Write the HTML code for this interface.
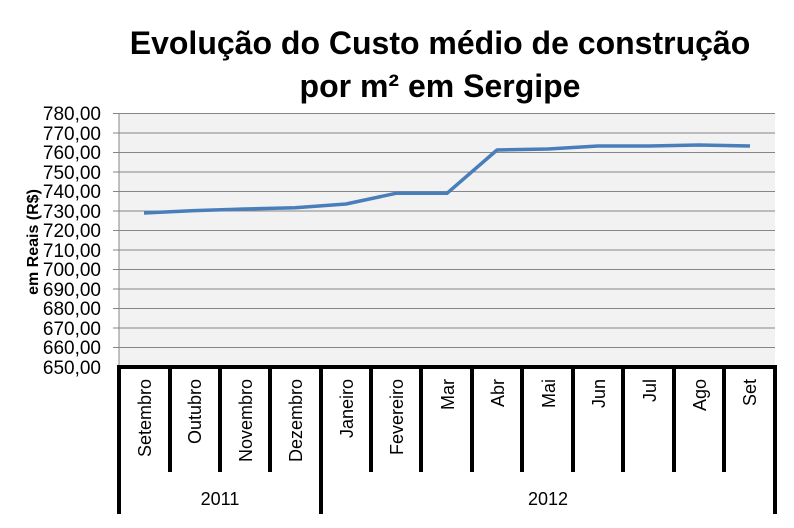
<!DOCTYPE html>
<html><head><meta charset="utf-8"><style>body{margin:0;background:#fff}</style></head><body>
<svg width="794" height="523" xmlns="http://www.w3.org/2000/svg" font-family="Liberation Sans, sans-serif">
<rect width="794" height="523" fill="#fff"/>
<text x="440" y="54" font-size="32" font-weight="bold" text-anchor="middle" fill="#000">Evolução do Custo médio de construção</text>
<text x="440" y="97" font-size="32" font-weight="bold" text-anchor="middle" fill="#000">por m² em Sergipe</text>
<rect x="119" y="113" width="656" height="254" fill="#f2f2f2"/>
<g stroke="#868686" stroke-width="1">
<line x1="113" x2="775" y1="113.5" y2="113.5"/><line x1="113" x2="775" y1="133" y2="133"/><line x1="113" x2="775" y1="152.5" y2="152.5"/><line x1="113" x2="775" y1="172" y2="172"/><line x1="113" x2="775" y1="191.5" y2="191.5"/><line x1="113" x2="775" y1="211" y2="211"/><line x1="113" x2="775" y1="230.5" y2="230.5"/><line x1="113" x2="775" y1="250" y2="250"/><line x1="113" x2="775" y1="269.5" y2="269.5"/><line x1="113" x2="775" y1="289" y2="289"/><line x1="113" x2="775" y1="308.5" y2="308.5"/><line x1="113" x2="775" y1="328" y2="328"/><line x1="113" x2="775" y1="347.5" y2="347.5"/>
<line x1="119" x2="119" y1="113" y2="367"/>
</g>
<g font-size="19" text-anchor="end" fill="#000">
<text x="101" y="120">780,00</text><text x="101" y="140">770,00</text><text x="101" y="159">760,00</text><text x="101" y="179">750,00</text><text x="101" y="198">740,00</text><text x="101" y="218">730,00</text><text x="101" y="237">720,00</text><text x="101" y="257">710,00</text><text x="101" y="276">700,00</text><text x="101" y="296">690,00</text><text x="101" y="315">680,00</text><text x="101" y="335">670,00</text><text x="101" y="354">660,00</text><text x="101" y="374">650,00</text>
</g>
<text transform="translate(38,242) rotate(-90)" font-size="16" font-weight="bold" text-anchor="middle">em Reais (R$)</text>
<g stroke="#000" stroke-width="4">
<line x1="117" x2="777" y1="367" y2="367"/>
<line x1="119" x2="119" y1="367" y2="514"/><line x1="321" x2="321" y1="367" y2="514"/><line x1="775" x2="775" y1="367" y2="514"/>
<line x1="170" x2="170" y1="367" y2="472"/><line x1="220" x2="220" y1="367" y2="472"/><line x1="270" x2="270" y1="367" y2="472"/><line x1="371" x2="371" y1="367" y2="472"/><line x1="421" x2="421" y1="367" y2="472"/><line x1="472" x2="472" y1="367" y2="472"/><line x1="522" x2="522" y1="367" y2="472"/><line x1="573" x2="573" y1="367" y2="472"/><line x1="623" x2="623" y1="367" y2="472"/><line x1="674" x2="674" y1="367" y2="472"/><line x1="724" x2="724" y1="367" y2="472"/>
</g>
<g font-size="18" text-anchor="end" fill="#000">
<text transform="translate(151,379) rotate(-90)">Setembro</text>
<text transform="translate(201,379) rotate(-90)">Outubro</text>
<text transform="translate(252,379) rotate(-90)">Novembro</text>
<text transform="translate(302,379) rotate(-90)">Dezembro</text>
<text transform="translate(353,379) rotate(-90)">Janeiro</text>
<text transform="translate(403,379) rotate(-90)">Fevereiro</text>
<text transform="translate(454,379) rotate(-90)">Mar</text>
<text transform="translate(504,379) rotate(-90)">Abr</text>
<text transform="translate(555,379) rotate(-90)">Mai</text>
<text transform="translate(605,379) rotate(-90)">Jun</text>
<text transform="translate(656,379) rotate(-90)">Jul</text>
<text transform="translate(706,379) rotate(-90)">Ago</text>
<text transform="translate(756,379) rotate(-90)">Set</text>
</g>
<g font-size="18" text-anchor="middle"><text x="220" y="505">2011</text><text x="548" y="505">2012</text></g>
<polyline fill="none" stroke="#4a7ebb" stroke-width="3.5" stroke-linejoin="round" points="144,213 194,210.6 245,209 295,207.7 346,204 396,193.3 447,193.3 497,150 548,149 598,146 649,146 699,145 750,146"/>
</svg>
</body></html>
